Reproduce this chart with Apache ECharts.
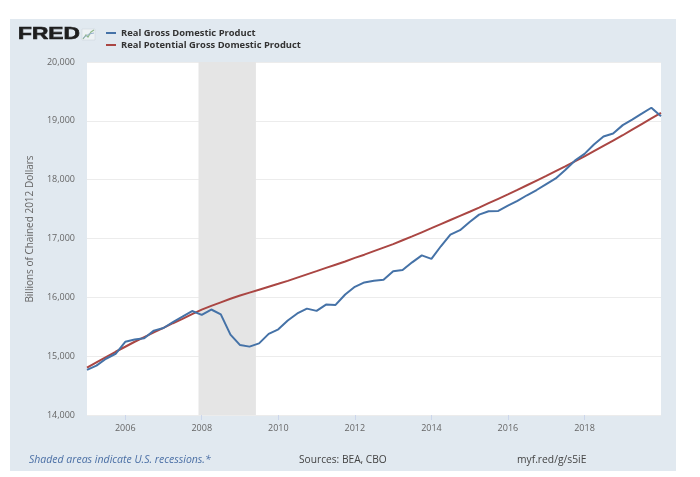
<!DOCTYPE html>
<html><head><meta charset="utf-8">
<script src="https://cdn.jsdelivr.net/npm/echarts@6/dist/echarts.min.js"></script>
<style>html,body{margin:0;padding:0;background:#fff}#c{width:700px;height:477px}</style>
</head><body><div id="c"></div>
<script>
// quarterly observations 2005Q1 .. 2020Q1
const years = [2005,2006,2007,2008,2009,2010,2011,2012,2013,2014,2015,2016,2017,2018,2019,2020];
const quarterMonths = ['01','04','07','10'];

const realGDP = [
  14768, 14840, 14956, 15041,
  15244, 15282, 15305, 15434,
  15479, 15578, 15671, 15767,
  15703, 15793, 15710, 15367,
  15188, 15162, 15217, 15379,
  15456, 15606, 15726, 15808,
  15770, 15877, 15871, 16049,
  16179, 16254, 16282, 16300,
  16442, 16464, 16595, 16713,
  16654, 16868, 17065, 17141,
  17281, 17406, 17463, 17469,
  17557, 17639, 17735, 17824,
  17925, 18021, 18164, 18323,
  18438, 18598, 18733, 18784,
  18927, 19022, 19121, 19222,
  19077
];

const potentialGDP = [
  14805, 14895, 14985, 15075,
  15160, 15245, 15325, 15405,
  15480, 15560, 15635, 15715,
  15790, 15855, 15915, 15975,
  16030, 16080, 16130, 16180,
  16230, 16280, 16335, 16390,
  16445, 16500, 16555, 16610,
  16670, 16725, 16785, 16845,
  16905, 16970, 17035, 17105,
  17175, 17245, 17315, 17385,
  17455, 17525, 17600, 17675,
  17750, 17825, 17905, 17985,
  18065, 18145, 18225, 18310,
  18395, 18485, 18575, 18665,
  18755, 18850, 18945, 19040,
  19135
];

const xTickDates = ['2006-01-01','2008-01-01','2010-01-01','2012-01-01','2014-01-01','2016-01-01','2018-01-01'];
const recession = ['2007-12-01','2009-06-01'];
const seriesNames = ['Real Gross Domestic Product','Real Potential Gross Domestic Product'];

// build date list (one per observation)
const dates = [];
years.forEach(y => quarterMonths.forEach(m => dates.push(y + '-' + m + '-01')));
dates.length = realGDP.length;
const parse = s => (echarts.time && echarts.time.parse) ? +echarts.time.parse(s) : +new Date(s);

const gdpData = realGDP.map((v,i) => [parse(dates[i]), v]);
const potData = potentialGDP.map((v,i) => [parse(dates[i]), v]);
const tickVals = xTickDates.map(parse);

const chart = echarts.init(document.getElementById('c'), null, {renderer:'canvas'});
const FONT = '"Open Sans", "DejaVu Sans", sans-serif';

chart.setOption({
  animation: false,
  backgroundColor: '#ffffff',
  graphic: [
    {type:'rect', z:-10, shape:{x:10, y:19, width:666, height:452}, style:{fill:'#e1e9f0'}},
    {type:'text', x:18, y:26, scaleX:1.38, style:{text:'FRED', font:'900 16.5px "Liberation Sans", Arial, sans-serif', fill:'#1e1e1e', stroke:'#1e1e1e', lineWidth:0.6}},
    {type:'rect', shape:{x:82, y:29, width:13, height:11}, style:{fill:'#eef2f5', stroke:'#c8d0d8', lineWidth:0.5}},
    {type:'polyline', shape:{points:[[83,39],[86,35],[88,37],[91,32],[94,30]]}, style:{stroke:'#8fb88a', lineWidth:1.2, fill:null}},
    {type:'polyline', shape:{points:[[83,38],[86,36],[89,34],[94,33]]}, style:{stroke:'#9bb3cf', lineWidth:1, fill:null}},
    {type:'text', x:30, y:229, rotation:Math.PI/2, style:{text:'Billions of Chained 2012 Dollars', font:'10px ' + FONT, fill:'#666666', align:'center', verticalAlign:'middle'}},
    {type:'text', x:29, y:460, style:{text:'Shaded areas indicate U.S. recessions.*', font:'italic 10.5px ' + FONT, fill:'#4a6fa5', verticalAlign:'middle'}},
    {type:'text', x:299, y:460, style:{text:'Sources: BEA, CBO', font:'10.2px ' + FONT, fill:'#444444', verticalAlign:'middle'}},
    {type:'text', x:517, y:460, style:{text:'myf.red/g/s5iE', font:'10.3px ' + FONT, fill:'#444444', verticalAlign:'middle'}}
  ],
  legend: {
    orient: 'vertical', left: 106, top: 27, padding: 0, itemGap: 0,
    itemWidth: 10, itemHeight: 2, icon: 'rect',
    textStyle: {fontFamily: FONT, fontSize: 9.4, fontWeight: 'bold', color: '#333333', lineHeight: 12},
    data: seriesNames
  },
  grid: {left: 87, right: 39, top: 62, bottom: 62, show: true, backgroundColor: '#ffffff', borderWidth: 0},
  xAxis: {
    type: 'time', min: parse(dates[0]), max: parse(dates[dates.length-1]),
    axisLine: {show: false},
    axisTick: {show: true, length: 5, lineStyle: {color: '#ccd6eb'}, customValues: tickVals},
    axisLabel: {color: '#666666', fontFamily: FONT, fontSize: 9, margin: 9, customValues: tickVals, formatter: '{yyyy}'},
    splitLine: {show: false}
  },
  yAxis: {
    type: 'value', min: 14000, max: 20000, interval: 1000,
    axisLine: {show: false}, axisTick: {show: false},
    axisLabel: {color: '#666666', fontFamily: FONT, fontSize: 9, margin: 12,
      formatter: v => v.toLocaleString('en-US')},
    splitLine: {lineStyle: {color: '#ececec', width: 1}}
  },
  series: [
    {
      name: seriesNames[0], type: 'line', data: gdpData, showSymbol: false,
      lineStyle: {color: '#4572a7', width: 2}, itemStyle: {color: '#4572a7'}, z: 3,
      markArea: {silent: true, itemStyle: {color: '#e5e5e5'}, data: [[{xAxis: parse(recession[0])}, {xAxis: parse(recession[1])}]]}
    },
    {
      name: seriesNames[1], type: 'line', data: potData, showSymbol: false,
      lineStyle: {color: '#aa4643', width: 2}, itemStyle: {color: '#aa4643'}, z: 2
    }
  ]
});
</script></body></html>
